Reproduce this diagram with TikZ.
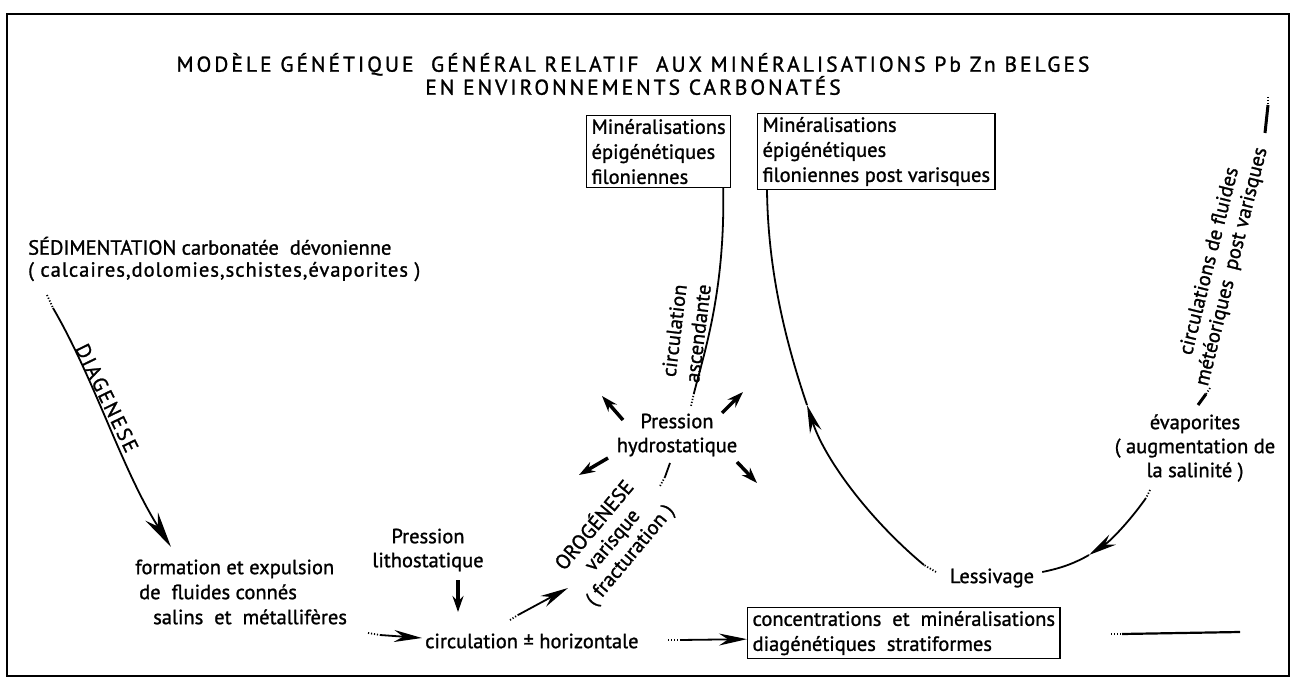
\documentclass[tikz,border=0pt]{standalone}
\usepackage{fontspec}
\setmainfont{PT Sans}[FakeBold=1.2]
\usetikzlibrary{arrows.meta}

\newcommand\corps{\fontsize{20.5pt}{25pt}\selectfont}
\newcommand\titre{\fontsize{21.5pt}{23pt}\selectfont\addfontfeature{LetterSpace=14}}

\tikzset{
  texte/.style={inner sep=0pt, font=\corps, align=center},
  boite/.style={draw, line width=1.2pt, inner xsep=5pt, inner ysep=3.5pt, font=\corps, align=left},
  trait/.style={line width=1.8pt},
  pointille/.style={line width=1.8pt, dash pattern=on 1.2pt off 1.8pt},
  fleche/.style={trait, -{Stealth[length=28pt,width=12pt]}},
  petite/.style={line width=3.5pt, -{Stealth[length=16pt,width=11pt]}},
}

\begin{document}
\begin{tikzpicture}[x=1pt,y=-1pt]
\useasboundingbox (0,0) rectangle (1299,687);
\draw[line width=1.5pt] (7,14) rectangle (1289,676);

% titre
\node[texte, font=\titre] (titre) at (633,74) {MODÈLE GÉNÉTIQUE\ \ GÉNÉRAL RELATIF\ \ AUX MINÉRALISATIONS Pb Zn BELGES\\EN ENVIRONNEMENTS CARBONATÉS};

% boites
\node[boite, anchor=north west] (mine1) at (586,115) {Minéralisations\\épigénétiques\\filoniennes};
\node[boite, anchor=north west] (mine2) at (757,113) {Minéralisations\\épigénétiques\\filoniennes post varisques};
\node[boite, anchor=north west] (strat) at (747,607) {concentrations\ \ et\ \ minéralisations\\diagénétiques\ \ stratiformes};

% textes
\node[texte, anchor=west, align=left, font=\fontsize{20.5pt}{22pt}\selectfont] (sedim) at (28,259) {SÉDIMENTATION carbonatée\ \ dévonienne\\{\addfontfeature{LetterSpace=5}( calcaires,dolomies,schistes,évaporites )}};
\node[texte, rotate=-64, font=\corps\addfontfeature{LetterSpace=10}] (diag) at (107,398) {DIAGENESE};
\node[texte, anchor=west, align=left] (forma) at (135,592) {formation et expulsion\\\hspace{4pt}de\ \ fluides connés\\\hspace{18pt}salins\ \ et\ \ métallifères};
\node[texte, font=\fontsize{20.5pt}{24pt}\selectfont] (litho) at (428,550) {Pression\\lithostatique};
\node[texte, anchor=west] (circh) at (425,641) {circulation ± horizontale};
\node[texte, rotate=50, font=\fontsize{20.5pt}{23pt}\selectfont] (orog) at (612,540) {OROGÉNESE\\varisque\\( fracturation )};
\node[texte, font=\fontsize{20.5pt}{24pt}\selectfont] (hydro) at (677,435) {Pression\\hydrostatique};
\node[texte, rotate=83, font=\fontsize{20.5pt}{24pt}\selectfont] (asc) at (686,332) {circulation\\ascendante};
\node[texte] (less) at (992,578) {Lessivage};
\node[texte, font=\fontsize{20.5pt}{24pt}\selectfont] (evap) at (1195,448) {évaporites\\( augmentation de\\la salinité )};
\node[texte, rotate=76, font=\fontsize{20.5pt}{23pt}\selectfont] (meteo) at (1221,264) {circulations de fluides\\météoriques\ \ post varisques};

% diagenese
\coordinate (d0) at (47,295);
\coordinate (d1) at (53,308);
\coordinate (d2) at (171,547);
\draw[pointille] (d0) -- (d1);
\draw[trait, -{Stealth[length=36pt,width=15pt]}] (d1) .. controls (95,380) and (122,470) .. (d2);

% circulation ascendante
\coordinate (a0) at (694,393);
\coordinate (a1) at (691,406);
\draw[trait] ([xshift=-8pt]mine1.south east) .. controls (725,290) and (705,350) .. (a0);
\draw[pointille] (a0) -- (a1);

% lessivage vers les filons post varisques
\coordinate (l0) at (936,572);
\coordinate (l1) at (924,565);
\coordinate (l2) at (807,405);
\draw[pointille] (l0) -- (l1);
\draw[fleche] (l1) .. controls (870,520) and (825,460) .. (l2);
\draw[trait] (l2) .. controls (785,340) and (768,270) .. ([xshift=10pt]mine2.south west);

% evaporites vers lessivage
\coordinate (r0) at (1150,490);
\coordinate (r1) at (1146,498);
\coordinate (r2) at (1089,555);
\draw[pointille] (r0) -- (r1);
\draw[fleche] (r1) .. controls (1132,518) and (1112,540) .. (r2);
\draw[trait] (r2) .. controls (1075,563) and (1062,568) .. ([xshift=8pt,yshift=6pt]less.east);

% circulations meteoriques
\coordinate (m0) at (1268,97);
\coordinate (m1) at (1268,105);
\coordinate (m2) at (1265,133);
\coordinate (m3) at (1210,388);
\coordinate (m4) at (1206,394);
\coordinate (m5) at (1198,405);
\draw[pointille] (m0) -- (m1);
\draw[line width=3pt] (m1) -- (m2);
\draw[pointille] (m3) -- (m4);
\draw[line width=3pt] (m4) -- (m5);

% pression hydrostatique
\coordinate (hNO) at (602,396);
\coordinate (hNE) at (743,392);
\coordinate (hSO) at (579,475);
\coordinate (hSE) at (757,483);
\draw[petite] (623,420) -- (hNO);
\draw[petite] (722,413) -- (hNE);
\draw[petite] (608,458) -- (hSO);
\draw[petite] (737,462) -- (hSE);
\coordinate (f0) at (670,463);
\coordinate (f1) at (665,477);
\coordinate (f2) at (660,486);
\draw[trait] (f0) -- (f1);
\draw[pointille] (f1) -- (f2);

% pression lithostatique
\coordinate (p0) at (458,580);
\coordinate (p1) at (458,612);
\draw[petite] (p0) -- (p1);

% circulation horizontale
\coordinate (s0) at (368,633);
\coordinate (s1) at (380,635);
\draw[pointille] (s0) -- (s1);
\draw[fleche] (s1) -- ([xshift=-3pt,yshift=3pt]circh.west);
\coordinate (o0) at (510,620);
\coordinate (o1) at (518,615);
\coordinate (o2) at (568,588);
\draw[pointille] (o0) -- (o1);
\draw[fleche] (o1) -- (o2);
\coordinate (h0) at (668,640);
\coordinate (h1) at (680,640);
\draw[pointille] (h0) -- (h1);
\draw[fleche] (h1) -- ([yshift=-6pt]strat.west);
\coordinate (e0) at (1111,634);
\coordinate (e1) at (1122,634);
\coordinate (e2) at (1240,632);
\draw[pointille] (e0) -- (e1);
\draw[line width=2.2pt] (e1) -- (e2);
\end{tikzpicture}
\end{document}
